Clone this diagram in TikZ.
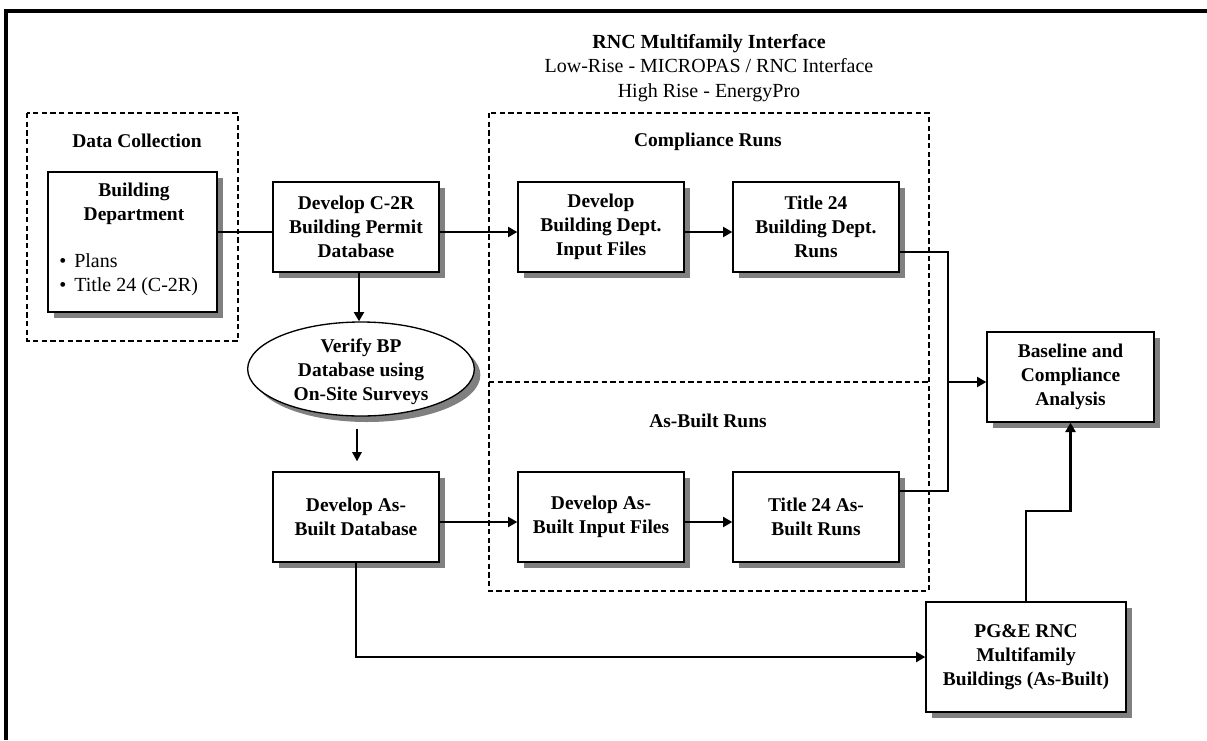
\documentclass[tikz,border=0pt]{standalone}
\usepackage{fontspec}
\setmainfont{Liberation Serif}
\usetikzlibrary{arrows.meta,shapes.geometric,shadows}
\begin{document}
\begin{tikzpicture}[x=0.75pt,y=-0.75pt,
  boxfont/.style={font=\fontsize{14.6}{18}\selectfont\bfseries},
  regfont/.style={font=\fontsize{15}{18}\selectfont},
  shad/.style={drop shadow={shadow xshift=4.5pt,shadow yshift=-4.5pt,fill=gray,opacity=1}},
  procbox/.style={draw=black,line width=1pt,fill=white,align=center,boxfont,inner sep=0pt,shad,
    minimum width=124.5pt,minimum height=67.5pt},
  ellbox/.style={ellipse,draw=black,line width=1pt,fill=white,inner sep=0pt,shad},
  dashline/.style={line width=1.5pt,dash pattern=on 4pt off 2.5pt},
  conn/.style={line width=2.2pt},
  arr/.style={line width=2.2pt,-{Triangle[length=7pt,width=7.5pt]}},
  arrthin/.style={line width=1.5pt,-{Triangle[length=7pt,width=7pt]}},
  thinl/.style={line width=0.9pt}
]
\useasboundingbox (0,0) rectangle (1207,740);
% frame
\draw[line width=3pt] (6,740) -- (6,11) -- (1207,11);

% title
\node[font=\fontsize{15}{18.4}\selectfont,align=center] (title) at (709,68) {{\bfseries RNC Multifamily Interface}\\Low-Rise - MICROPAS / RNC Interface\\High Rise - EnergyPro};

% dashed groups
\draw[dashline] (27,113) rectangle (238,341);
\draw[dashline] (489,113) rectangle (929,591);
\draw[dashline] (489,382) -- (929,382);
\node[boxfont] (dct) at (137,141) {Data Collection};
\node[boxfont] (crt) at (708,142) {Compliance Runs};
\node[boxfont] (abt) at (708,421) {As-Built Runs};

% boxes
\node[procbox,minimum width=126.75pt,minimum height=105pt] (bd) at (132.5,242) {};
\node[boxfont,align=center] (bdt) at (134,204) {Building\\Department};
\node[regfont,align=left,anchor=west,inner sep=0pt] (bdl) at (59,275) {•\hspace{6pt}Plans\\•\hspace{6pt}Title 24 (C-2R)};

\node[procbox] (c2r) at (356,227) {Develop C-2R\\Building Permit\\Database};
\node[procbox] (inbd) at (601,227) {Develop\\Building Dept.\\Input Files};
\node[procbox] (t24bd) at (816,227) {Title 24\\Building Dept.\\Runs};

\node[ellbox,minimum width=170pt,minimum height=70.5pt] (ver) at (361,369) {};
\node[boxfont,align=center] (vert) at (361,372) {Verify BP\\Database using\\On-Site Surveys};

\node[procbox] (abdb) at (356,517) {Develop As-\\Built Database};
\node[procbox] (inab) at (601,517) {Develop As-\\Built Input Files};
\node[procbox] (t24ab) at (816,517) {Title 24 As-\\Built Runs};

\node[procbox,minimum width=125.25pt] (base) at (1070.5,377) {Baseline and\\Compliance\\Analysis};
\node[procbox,minimum width=150pt,minimum height=82.5pt] (pge) at (1026,657) {PG\&E RNC\\Multifamily\\Buildings (As-Built)};

% helper coordinates
\coordinate (ya) at (0,232);
\coordinate (yb) at (0,522);
\coordinate (xv) at (359,0);
\coordinate (xw) at (357,0);
\coordinate (j1) at (948,252);
\coordinate (j2) at (948,491);
\coordinate (j3) at (948,382);
\coordinate (k) at (0,511);

% connectors
\draw[conn] (bd.east |- ya) -- (c2r.west |- ya);
\draw[arr] (c2r.east |- ya) -- (inbd.west |- ya);
\draw[arr] (inbd.east |- ya) -- (t24bd.west |- ya);
\draw[arr] (c2r.south -| xv) -- (ver.north -| xv);
\draw[arrthin,shorten <=9pt,shorten >=7.5pt] (ver.south -| xw) -- (abdb.north -| xw);
\draw[arr] (abdb.east |- yb) -- (inab.west |- yb);
\draw[arr] (inab.east |- yb) -- (t24ab.west |- yb);
\draw[thinl] (t24bd.east |- j1) -- (j1) -- (j2) -- (t24ab.east |- j2);
\draw[arr] (j3) -- (base.west |- j3);
\draw[arr] (abdb.south) -- (abdb.south |- pge.west) -- (pge.west);
\draw[arr] (pge.north) -- (pge.north |- k) -- (base.south |- k) -- (base.south);
\end{tikzpicture}
\end{document}
